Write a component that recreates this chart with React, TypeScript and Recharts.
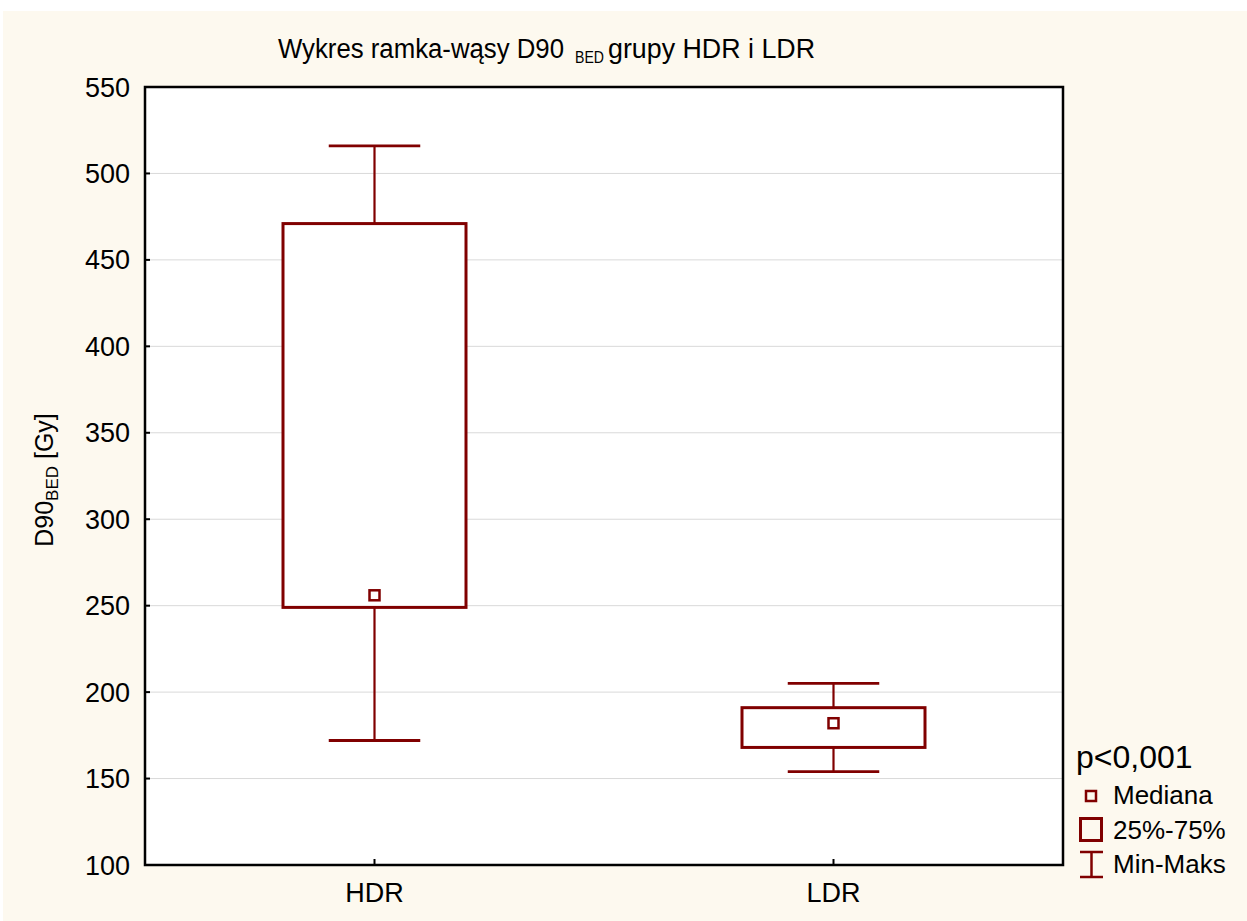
import React from 'react';
import { ComposedChart, Bar, XAxis, YAxis, CartesianGrid, ReferenceArea } from 'recharts';

const categories = ['HDR', 'LDR'];
const minValues = [172, 154];
const q1Values = [249, 168];
const medianValues = [256, 182];
const q3Values = [471, 191];
const maxValues = [516, 205];
const yTicks = [100, 150, 200, 250, 300, 350, 400, 450, 500, 550];

const RED = '#800000';
const CREAM = '#fdf9ef';
const FONT = "'Liberation Sans', Arial, sans-serif";

const data = categories.map((name, i) => ({
  name,
  range: [minValues[i], maxValues[i]],
  min: minValues[i],
  q1: q1Values[i],
  median: medianValues[i],
  q3: q3Values[i],
  max: maxValues[i],
}));

// box + whiskers drawn from the range bar geometry (y = max, y + height = min)
function BoxShape(props: any) {
  const { x, y, width, height, payload } = props;
  const top = Math.min(y, y + height);
  const h = Math.abs(height);
  const span = payload.max - payload.min;
  const toPx = (v: number) => top + ((payload.max - v) / span) * h;
  const cx = x + width / 2;
  const capHalf = width * 0.25;
  const yMax = toPx(payload.max);
  const yMin = toPx(payload.min);
  const yQ1 = toPx(payload.q1);
  const yQ3 = toPx(payload.q3);
  const yMed = toPx(payload.median);
  return (
    <g>
      <line x1={cx} x2={cx} y1={yMax} y2={yQ3} stroke={RED} strokeWidth={2.2} />
      <line x1={cx} x2={cx} y1={yQ1} y2={yMin} stroke={RED} strokeWidth={2.2} />
      <line x1={cx - capHalf} x2={cx + capHalf} y1={yMax} y2={yMax} stroke={RED} strokeWidth={2.8} />
      <line x1={cx - capHalf} x2={cx + capHalf} y1={yMin} y2={yMin} stroke={RED} strokeWidth={2.8} />
      <rect x={x} y={yQ3} width={width} height={yQ1 - yQ3} fill="#ffffff" stroke={RED} strokeWidth={3} />
      <rect x={cx - 5} y={yMed - 5} width={10} height={10} fill="#ffffff" stroke={RED} strokeWidth={2.5} />
    </g>
  );
}

export default function App() {
  return (
    <div style={{ position: 'absolute', left: 0, top: 0, width: 1247, height: 921, background: '#ffffff' }}>
      <div style={{ position: 'absolute', left: 3, top: 11, width: 1244, height: 910, background: CREAM }}>
        <ComposedChart
          width={1244}
          height={910}
          data={data}
          margin={{ top: 75, right: 183, left: 0, bottom: 0 }}
          barCategoryGap={0}
        >
          <CartesianGrid horizontal vertical={false} stroke="#d9d9d9" strokeWidth={1} fill="#ffffff" />
          <XAxis
            dataKey="name"
            height={56}
            axisLine={false}
            tickLine={{ stroke: '#000', strokeWidth: 2 }}
            tickSize={-6}
            tickMargin={24}
            tick={{ fill: '#000', fontSize: 27, fontFamily: FONT }}
          />
          <XAxis
            xAxisId="top"
            dataKey="name"
            orientation="top"
            height={1}
            axisLine={false}
            tickLine={{ stroke: '#000', strokeWidth: 2 }}
            tickSize={-6}
            tick={false}
          />
          <YAxis
            domain={[100, 550]}
            ticks={yTicks}
            interval={0}
            width={142}
            axisLine={false}
            tickLine={{ stroke: '#000', strokeWidth: 2 }}
            tickSize={-5}
            tickMargin={20}
            tick={{ fill: '#000', fontSize: 27, fontFamily: FONT }}
          />
          <YAxis
            yAxisId="right"
            orientation="right"
            domain={[100, 550]}
            ticks={yTicks}
            width={1}
            axisLine={false}
            tickLine={{ stroke: '#000', strokeWidth: 2 }}
            tickSize={-5}
            tick={false}
          />
          <ReferenceArea
            y1={100}
            y2={550}
            fill="none"
            fillOpacity={0}
            stroke="#000"
            strokeWidth={2.5}
            ifOverflow="visible"
          />
          <Bar dataKey="range" barSize={183} shape={<BoxShape />} isAnimationActive={false} />
        </ComposedChart>
      </div>

      <svg
        width={1247}
        height={921}
        style={{ position: 'absolute', left: 0, top: 0, pointerEvents: 'none', fontFamily: FONT }}
      >
        {/* title */}
        <text x={278} y={58} fontSize={27} fill="#000" textLength={286} lengthAdjust="spacingAndGlyphs">
          Wykres ramka-wąsy D90
        </text>
        <text x={575} y={63} fontSize={17} fill="#000" textLength={29} lengthAdjust="spacingAndGlyphs">
          BED
        </text>
        <text x={608} y={58} fontSize={27} fill="#000" textLength={207} lengthAdjust="spacingAndGlyphs">
          grupy HDR i LDR
        </text>

        {/* y axis label */}
        <text transform="translate(53, 480) rotate(-90)" textAnchor="middle" fontSize={25} fill="#000">
          D90<tspan fontSize={17} dy={5}>BED</tspan>
          <tspan dy={-5}> [Gy]</tspan>
        </text>

        {/* legend */}
        <text x={1076} y={768} fontSize={32} fill="#000">p&lt;0,001</text>

        <rect x={1086} y={791} width={10} height={10} fill="none" stroke={RED} strokeWidth={2.5} />
        <text x={1113} y={804} fontSize={26} fill="#000">Mediana</text>

        <rect x={1080.5} y={818.5} width={21} height={22} fill="none" stroke={RED} strokeWidth={3} />
        <text x={1113} y={839} fontSize={26} fill="#000">25%-75%</text>

        <line x1={1080} x2={1103} y1={852} y2={852} stroke={RED} strokeWidth={2.5} />
        <line x1={1091.5} x2={1091.5} y1={852} y2={877} stroke={RED} strokeWidth={2.5} />
        <line x1={1080} x2={1103} y1={877} y2={877} stroke={RED} strokeWidth={2.5} />
        <text x={1113} y={873} fontSize={26} fill="#000">Min-Maks</text>
      </svg>
    </div>
  );
}
